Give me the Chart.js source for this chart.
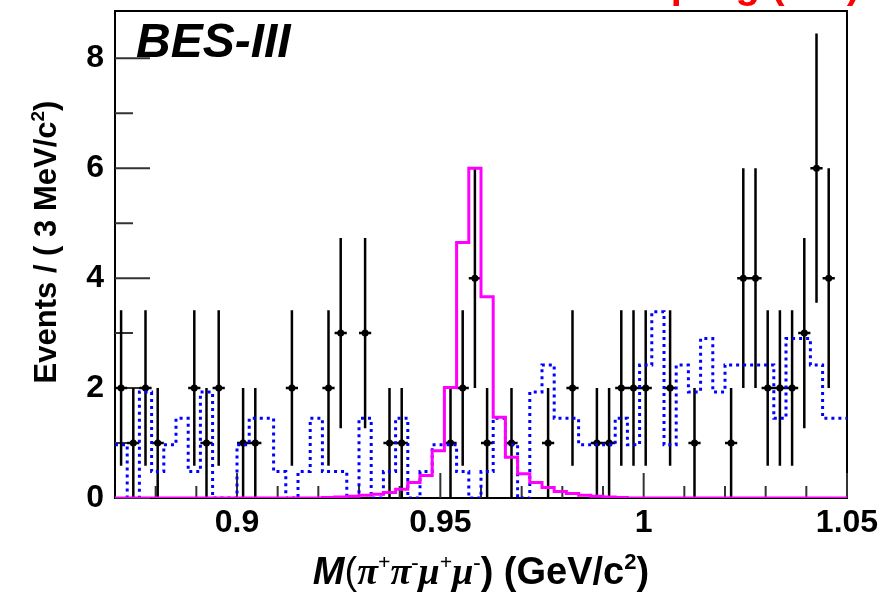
<!DOCTYPE html>
<html>
<head>
<meta charset="utf-8">
<script src="https://cdn.jsdelivr.net/npm/chart.js@4/dist/chart.umd.min.js"></script>
<style>
  html, body { margin: 0; padding: 0; background: #fff; }
</style>
</head>
<body>
<canvas id="plot" width="895" height="595"></canvas>
<script>
const X_MIN = 0.87;
const X_MAX = 1.05;
const BIN_WIDTH = 0.003;
const Y_MAX = 8.86;
const FONT = "'Liberation Sans', Arial, Helvetica, sans-serif";

// data: bin index (3 MeV bins from X_MIN) and event count, empty bins left out
const dataBins = [0, 1, 2, 3, 6, 7, 8, 10, 11, 14, 17, 18, 20, 22, 23, 27, 28, 29, 30, 32, 35, 37,
  39, 40, 41, 42, 43, 45, 47, 50, 51, 52, 53, 54, 55, 56, 57, 58];
const dataCounts = [2, 1, 2, 1, 2, 1, 2, 1, 1, 2, 2, 3, 3, 1, 1, 1, 2, 4, 1, 1, 1, 2,
  1, 1, 2, 2, 2, 2, 1, 1, 4, 4, 2, 2, 2, 3, 6, 4];

// normalised background MC, one value per bin (60 bins)
const bkgHist = [
  0.97, 0, 1.93, 0.48, 0.97, 1.45, 0.48, 1.93, 0, 0,
  0.97, 1.45, 1.45, 0.48, 0, 0.48, 1.45, 0.48, 0.48, 0,
  1.45, 0, 0.48, 1.45, 0, 0.48, 0.97, 0.97, 0.48, 0,
  0.48, 1.45, 0.97, 0, 1.93, 2.42, 1.45, 1.45, 0.97, 0.97,
  0.97, 1.45, 0.97, 2.42, 3.39, 0.97, 2.42, 1.93, 2.9, 1.93,
  2.42, 2.42, 2.42, 2.42, 1.45, 2.9, 2.9, 2.42, 1.45, 1.45
];

// signal MC shape, one value per bin (60 bins)
const sigHist = [
  0, 0, 0, 0, 0, 0, 0, 0, 0, 0,
  0, 0, 0, 0, 0, 0, 0, 0.01, 0.02, 0.03,
  0.05, 0.07, 0.10, 0.16, 0.28, 0.41, 0.86, 2.01, 4.65, 6.0,
  3.66, 1.47, 0.74, 0.44, 0.28, 0.19, 0.12, 0.08, 0.05, 0.03,
  0.02, 0.01, 0, 0, 0, 0, 0, 0, 0, 0,
  0, 0, 0, 0, 0, 0, 0, 0, 0, 0
];

const xMajorTicks = [0.9, 0.95, 1, 1.05];
const xTickLabels = ["0.9", "0.95", "1", "1.05"];
const xMinorTicks = [0.88, 0.89, 0.91, 0.92, 0.93, 0.94, 0.96, 0.97, 0.98, 0.99, 1.01, 1.02, 1.03, 1.04];
const yMajorTicks = [0, 2, 4, 6, 8];
const yMinorTicks = [1, 3, 5, 7];

const binLow = (i) => X_MIN + i * BIN_WIDTH;

// points at the low edge of every bin plus the last edge, drawn as steps
function stepLine(values) {
  const pts = values.map((v, i) => ({ x: binLow(i), y: v }));
  pts.push({ x: X_MAX, y: values[values.length - 1] });
  return pts;
}

const dataPoints = dataBins.map((b, i) => ({ x: binLow(b) + BIN_WIDTH / 2, y: dataCounts[i] }));

// draws text made of several font runs (for italics and superscripts)
function drawRich(ctx, parts, x, y, align) {
  let total = 0;
  parts.forEach((p) => { ctx.font = p[1]; total += ctx.measureText(p[0]).width; });
  let cx = align === "center" ? x - total / 2 : x;
  ctx.textAlign = "left";
  parts.forEach((p) => {
    ctx.font = p[1];
    ctx.fillText(p[0], cx, y - (p[2] || 0));
    cx += ctx.measureText(p[0]).width;
  });
}

const rootStyle = {
  id: "rootStyle",
  beforeDatasetsDraw(chart) {
    const { ctx, chartArea: a, scales: { x, y } } = chart;
    ctx.save();
    // frame
    ctx.strokeStyle = "#000";
    ctx.lineWidth = 2;
    ctx.strokeRect(a.left, a.top, a.right - a.left, a.bottom - a.top);

    // inward ticks
    ctx.strokeStyle = "#333";
    ctx.lineWidth = 2;
    ctx.beginPath();
    xMajorTicks.forEach((v) => { const px = x.getPixelForValue(v); ctx.moveTo(px, a.bottom); ctx.lineTo(px, a.bottom - 25); });
    xMinorTicks.forEach((v) => { const px = x.getPixelForValue(v); ctx.moveTo(px, a.bottom); ctx.lineTo(px, a.bottom - 12); });
    yMajorTicks.forEach((v) => { const py = y.getPixelForValue(v); ctx.moveTo(a.left, py); ctx.lineTo(a.left + 35, py); });
    yMinorTicks.forEach((v) => { const py = y.getPixelForValue(v); ctx.moveTo(a.left, py); ctx.lineTo(a.left + 18, py); });
    ctx.stroke();

    // data error bars: sqrt(N) vertically, bin width horizontally
    ctx.strokeStyle = "#000";
    ctx.lineWidth = 2.5;
    ctx.beginPath();
    dataBins.forEach((b, i) => {
      const n = dataCounts[i];
      const err = Math.sqrt(n);
      const cx = x.getPixelForValue(binLow(b) + BIN_WIDTH / 2);
      ctx.moveTo(cx, y.getPixelForValue(n - err));
      ctx.lineTo(cx, y.getPixelForValue(Math.min(n + err, Y_MAX)));
      const cy = y.getPixelForValue(n);
      ctx.moveTo(x.getPixelForValue(binLow(b)), cy);
      ctx.lineTo(x.getPixelForValue(binLow(b + 1)), cy);
    });
    ctx.stroke();
    ctx.restore();
  },
  afterDraw(chart) {
    const { ctx, chartArea: a } = chart;
    ctx.save();
    ctx.fillStyle = "#000";
    ctx.textBaseline = "alphabetic";

    // experiment tag
    ctx.font = `italic bold 48px ${FONT}`;
    ctx.fillText("BES-III", a.left + 21, a.top + 46);

    // x title
    const big = `bold 38px ${FONT}`;
    const sup = `bold 22px ${FONT}`;
    const greek = "italic bold 38px 'Liberation Serif', serif";
    const greekSup = "bold 22px 'Liberation Serif', serif";
    drawRich(ctx, [
      ["M", `italic bold 38px ${FONT}`],
      ["(", `38px ${FONT}`],
      ["\u03C0", greek], ["+", greekSup, 15],
      ["\u03C0", greek], ["-", greekSup, 15],
      ["\u03BC", greek], ["+", greekSup, 15],
      ["\u03BC", greek], ["-", greekSup, 15],
      [") (GeV/c", big], ["2", sup, 15], [")", big],
    ], 481, 584, "center");

    // y title
    const yBig = `bold 31px ${FONT}`;
    const ySup = `bold 19px ${FONT}`;
    ctx.translate(56, 242);
    ctx.rotate(-Math.PI / 2);
    drawRich(ctx, [["Events / ( 3 MeV/c", yBig], ["2", ySup, 12], [")", yBig]], 0, 0, "center");
    ctx.restore();

    // headline, mostly above the canvas
    ctx.save();
    ctx.fillStyle = "#ff0000";
    ctx.font = `bold 40px ${FONT}`;
    ctx.textAlign = "right";
    ctx.fillText("\u03B7\u2032 sig (MC)", 860, -2);
    ctx.restore();
  },
};

new Chart(document.getElementById("plot"), {
  data: {
    datasets: [
      {
        type: "scatter",
        data: dataPoints,
        pointRadius: 3.5,
        pointBackgroundColor: "#000",
        pointBorderWidth: 0,
        order: 3,
      },
      {
        type: "line",
        data: stepLine(bkgHist),
        stepped: "before",
        borderColor: "#0000ff",
        borderWidth: 3,
        borderDash: [3, 4],
        pointRadius: 0,
        fill: false,
        order: 2,
      },
      {
        type: "line",
        data: stepLine(sigHist),
        stepped: "before",
        borderColor: "#ff00ff",
        borderWidth: 3,
        pointRadius: 0,
        fill: false,
        order: 1,
      },
    ],
  },
  options: {
    responsive: false,
    animation: false,
    events: [],
    layout: { padding: { top: 11, right: 48, left: 0, bottom: 0 } },
    plugins: { legend: { display: false }, tooltip: { enabled: false } },
    scales: {
      x: {
        type: "linear",
        min: X_MIN,
        max: X_MAX,
        grid: { display: false, drawTicks: false },
        border: { display: false },
        afterBuildTicks: (s) => { s.ticks = xMajorTicks.map((v) => ({ value: v })); },
        afterFit: (s) => { s.height = 97; s.paddingLeft = 0; s.paddingRight = 0; },
        ticks: {
          autoSkip: false,
          maxRotation: 0,
          padding: 6,
          color: "#000",
          font: { family: FONT, size: 32, weight: "bold" },
          callback: (v) => xTickLabels[xMajorTicks.indexOf(v)] ?? "",
        },
      },
      y: {
        min: 0,
        max: Y_MAX,
        grid: { display: false, drawTicks: false },
        border: { display: false },
        afterBuildTicks: (s) => { s.ticks = yMajorTicks.map((v) => ({ value: v })); },
        afterFit: (s) => { s.width = 115; s.paddingTop = 0; s.paddingBottom = 0; },
        ticks: {
          padding: 11,
          color: "#000",
          font: { family: FONT, size: 32, weight: "bold" },
          callback: (v) => String(v),
        },
      },
    },
  },
  plugins: [rootStyle],
});
</script>
</body>
</html>
